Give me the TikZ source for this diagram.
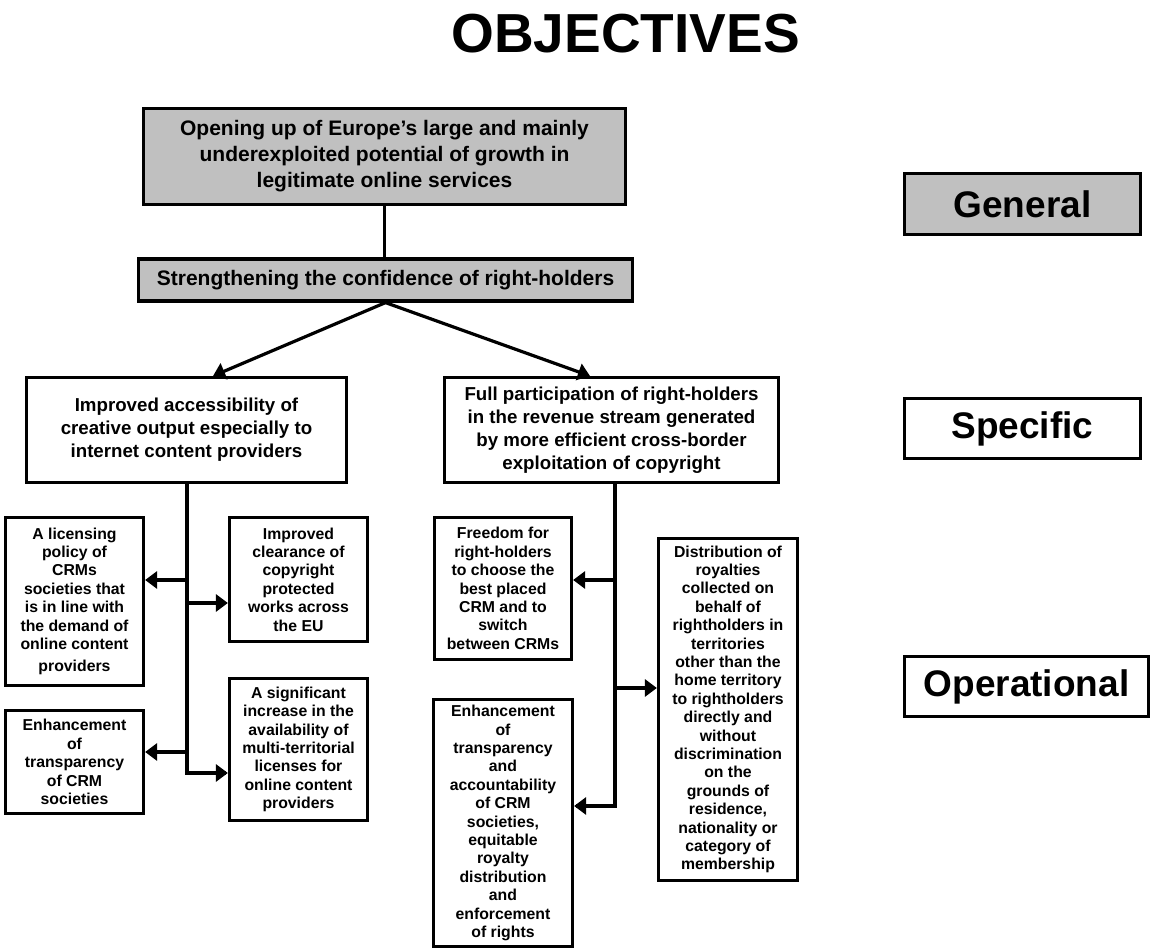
\documentclass[tikz,border=0pt]{standalone}
\usepackage{fontspec}
\setmainfont{Liberation Sans}
\usetikzlibrary{arrows.meta}
\definecolor{boxgray}{HTML}{C0C0C0}
\tikzset{
  box/.style={draw=black, line width=3.2pt, align=center, inner sep=0pt, font=\bfseries},
  gbox/.style={box, fill=boxgray},
  topfont/.style={font=\bfseries\fontsize{21}{26}\selectfont},
  specfont/.style={font=\bfseries\fontsize{18.7}{23}\selectfont},
  opfont/.style={font=\bfseries\fontsize{15.8}{18.4}\selectfont},
  legfont/.style={font=\bfseries\fontsize{37}{40}\selectfont},
  conn/.style={line width=3.2pt},
  arr/.style={line width=3.2pt, -{Triangle[length=12pt,width=17pt]}},
}
\begin{document}
\begin{tikzpicture}[x=1pt,y=-1pt]
\useasboundingbox (0,0) rectangle (1152,952);
\node[anchor=base, font=\bfseries\fontsize{55}{60}\selectfont] (title) at (625.5,53) {OBJECTIVES};

\node[gbox, topfont, minimum width=482, minimum height=96] (top) at (384.5,156.5)
  {Opening up of Europe’s large and mainly\\underexploited potential of growth in\\legitimate online services};
\node[gbox, topfont, minimum width=494, minimum height=42] (str) at (385.5,280)
  {Strengthening the confidence of right-holders};

\node[box, specfont, minimum width=320, minimum height=105] (s1) at (186.5,430)
  {Improved accessibility of\\creative output especially to\\internet content providers};
\node[box, specfont, minimum width=334, minimum height=105] (s2) at (611.5,430)
  {Full participation of right-holders\\in the revenue stream generated\\by more efficient cross-border\\exploitation of copyright};

\node[box, opfont, minimum width=138, minimum height=168] (a1) at (74.5,601.5)
  {A licensing\\policy of\\CRMs\\societies that\\is in line with\\the demand of\\online content\\[4pt]providers};
\node[box, opfont, minimum width=138, minimum height=124] (a2) at (298.5,579.5)
  {Improved\\clearance of\\copyright\\protected\\works across\\the EU};
\node[box, opfont, minimum width=138, minimum height=103] (a3) at (74.5,762)
  {Enhancement\\of\\transparency\\of CRM\\societies};
\node[box, opfont, minimum width=138, minimum height=142] (a4) at (298.5,749.5)
  {A significant\\increase in the\\availability of\\multi-territorial\\licenses for\\online content\\providers};

\node[box, opfont, minimum width=137, minimum height=142] (b1) at (503,588.5)
  {Freedom for\\right-holders\\to choose the\\best placed\\CRM and to\\switch\\between CRMs};
\node[box, opfont, minimum width=139, minimum height=342] (b2) at (728,709.5)
  {Distribution of\\royalties\\collected on\\behalf of\\rightholders in\\territories\\other than the\\home territory\\to rightholders\\directly and\\without\\discrimination\\on the\\grounds of\\residence,\\nationality or\\category of\\membership};
\node[box, opfont, minimum width=139, minimum height=247] (b3) at (503,823)
  {Enhancement\\of\\transparency\\and\\accountability\\of CRM\\societies,\\equitable\\royalty\\distribution\\and\\enforcement\\of rights};

\node[gbox, legfont, minimum width=236, minimum height=61] (gen) at (1022.5,204) {General};
\node[box, legfont, minimum width=236, minimum height=60] (spe) at (1022.5,428.5) {Specific};
\node[box, legfont, minimum width=244, minimum height=60] (ope) at (1026.5,686.5) {Operational};

% connectors top
\draw[conn] (top.south) -- (top.south |- str.north);
\coordinate (sl) at (213,376);
\coordinate (sr) at (590,376);
\draw[arr] (str.south) -- (sl);
\draw[arr] (str.south) -- (sr);

% left trunk
\coordinate (l1) at (187,580);
\coordinate (l2) at (187,603);
\coordinate (l3) at (187,752);
\coordinate (l4) at (187,773);
\draw[conn, line join=miter] (s1.south -| l4) -- (l4) -- ([xshift=-2pt]l4 -| a4.west);
\draw[arr] (l4) -- (l4 -| a4.west);
\draw[arr] (l1) -- (l1 -| a1.east);
\draw[arr] (l2) -- (l2 -| a2.west);
\draw[arr] (l3) -- (l3 -| a3.east);

% right trunk
\coordinate (r1) at (615,580);
\coordinate (r2) at (615,688);
\coordinate (r3) at (615,806);
\draw[conn, line join=miter] (s2.south -| r3) -- (r3) -- ([xshift=2pt]r3 -| b3.east);
\draw[arr] (r3) -- (r3 -| b3.east);
\draw[arr] (r1) -- (r1 -| b1.east);
\draw[arr] (r2) -- (r2 -| b2.west);
\end{tikzpicture}
\end{document}
